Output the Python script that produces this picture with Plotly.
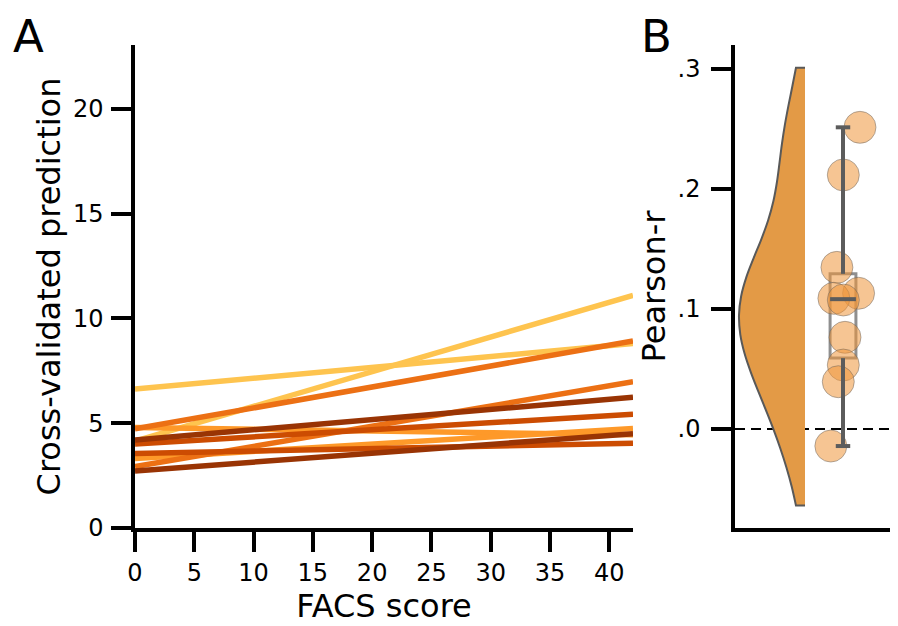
import numpy as np
import plotly.graph_objects as go

# page is rendered with an 8px body margin; figure sized to fit the window
OFF = 8
W, H = 898 - OFF, 626 - OFF


def fx(p):
    return (p - OFF) / W


def fy(p):
    return 1 - (p - OFF) / H


# ---------------- data ----------------
facs_span = [0, 42]
pred_at_start = [6.63, 4.15, 4.80, 3.32, 4.73, 2.93, 4.01, 3.56, 4.20, 2.72]
pred_at_end = [8.80, 11.10, 4.45, 4.75, 8.93, 6.98, 5.43, 4.04, 6.24, 4.50]
line_colors = ["#fec44f", "#fec44f", "#fe9929", "#fe9929", "#ec7014",
               "#ec7014", "#cc4c02", "#cc4c02", "#993404", "#993404"]

pearson_r = [0.2514, 0.2117, 0.1347, 0.1131, 0.1089, 0.1075, 0.0764, 0.0533, 0.0394, -0.0142]
rain_jitter = [0.447, 0.008, -0.16, 0.41, -0.24, 0.008, 0.053, 0.008, -0.124, -0.32]

x_ticks_a = [0, 5, 10, 15, 20, 25, 30, 35, 40]
y_ticks_a = [0, 5, 10, 15, 20]
y_ticks_b = [0.0, 0.1, 0.2, 0.3]
y_ticktext_b = [".0", ".1", ".2", ".3"]

# ---------------- stats ----------------
r = np.array(pearson_r)
q1, med, q3 = np.percentile(r, [25, 50, 75])
rmin, rmax = r.min(), r.max()
bw = r.std(ddof=1) * len(r) ** (-1 / 5)

FONT = "DejaVu Sans"
VIOLIN_X, BOX_X = 0.0, 1.0
BOX_W = 0.68
CAP = 0.19

fig = go.Figure()

# Panel A lines
for s, e, c in zip(pred_at_start, pred_at_end, line_colors):
    fig.add_trace(go.Scatter(x=facs_span, y=[s, e], mode="lines",
                             line=dict(color=c, width=5.5), xaxis="x", yaxis="y",
                             showlegend=False, hoverinfo="skip"))

# Panel B violin (half)
fig.add_trace(go.Violin(x=[VIOLIN_X] * len(r), y=r, side="negative",
                        width=2 * 1.737, bandwidth=bw, spanmode="manual",
                        span=[rmin - bw, rmax + bw], points=False,
                        box_visible=False, meanline_visible=False,
                        fillcolor="#e39a46", line=dict(color="#595959", width=2),
                        opacity=1, scalemode="width",
                        xaxis="x2", yaxis="y2", showlegend=False, hoverinfo="skip"))

# rain points
fig.add_trace(go.Scatter(x=[BOX_X + j for j in rain_jitter], y=r, mode="markers",
                         marker=dict(size=32, color="rgba(238,150,58,0.55)",
                                     line=dict(color="rgba(90,90,90,0.45)", width=1)),
                         xaxis="x2", yaxis="y2", showlegend=False, hoverinfo="skip"))

# box
fig.add_trace(go.Box(x=[BOX_X], q1=[q1], median=[med], q3=[q3],
                     lowerfence=[q1], upperfence=[q3], width=BOX_W, whiskerwidth=0,
                     fillcolor="rgba(255,255,255,0.4)",
                     line=dict(color="rgba(115,115,115,0.8)", width=3),
                     boxpoints=False, xaxis="x2", yaxis="y2",
                     showlegend=False, hoverinfo="skip"))

# whiskers with caps
fig.add_trace(go.Scatter(
    x=[BOX_X, BOX_X, None, BOX_X, BOX_X, None,
       BOX_X - CAP, BOX_X + CAP, None, BOX_X - CAP, BOX_X + CAP],
    y=[q3, rmax, None, q1, rmin, None, rmax, rmax, None, rmin, rmin],
    mode="lines", line=dict(color="#5c5c5c", width=4),
    xaxis="x2", yaxis="y2", showlegend=False, hoverinfo="skip"))
# median
fig.add_trace(go.Scatter(x=[BOX_X - BOX_W / 2, BOX_X + BOX_W / 2], y=[med, med],
                         mode="lines", line=dict(color="#5c5c5c", width=4),
                         xaxis="x2", yaxis="y2", showlegend=False, hoverinfo="skip"))

# zero reference line
fig.add_shape(type="line", xref="x2 domain", x0=0, x1=1, yref="y2", y0=0, y1=0,
              line=dict(color="black", width=2, dash="10px,6px"), layer="below")

ydom = [fy(528), fy(45)]
axis_common = dict(showline=True, linecolor="black", linewidth=3.5, showgrid=False,
                   zeroline=False, ticks="outside", tickwidth=3.5, ticklen=20,
                   tickcolor="black", tickfont=dict(family=FONT, size=24, color="black"))

fig.update_layout(
    width=W, height=H, margin=dict(l=0, r=0, t=0, b=0),
    paper_bgcolor="white", plot_bgcolor="white",
    font=dict(family=FONT, color="black"),
    xaxis=dict(domain=[fx(135), fx(633)], range=[0, 42], tickvals=x_ticks_a,
               title=dict(text="FACS score", font=dict(size=32), standoff=9),
               anchor="y", automargin=False, ticklabelstandoff=0, **axis_common),
    yaxis=dict(domain=ydom, range=[0, 23.05], tickvals=y_ticks_a,
               title=dict(text="Cross-validated prediction", font=dict(size=32), standoff=4),
               anchor="x", automargin=False, ticklabelstandoff=3, **axis_common),
    xaxis2=dict(domain=[fx(735), 1], range=[-70 / 38, 93 / 38], showline=True,
                linecolor="black", linewidth=3.5, showgrid=False, zeroline=False,
                showticklabels=False, ticks="", anchor="y2", automargin=False),
    yaxis2=dict(domain=ydom, range=[-0.0825, 0.32], tickvals=y_ticks_b,
                ticktext=y_ticktext_b,
                title=dict(text="Pearson-r", font=dict(size=32), standoff=3),
                anchor="x2", automargin=False, ticklabelstandoff=6, **axis_common),
    annotations=[
        dict(text="A", x=fx(11), y=1, xref="paper", yref="paper",
             xanchor="left", yanchor="top", showarrow=False,
             font=dict(family=FONT, size=45, color="black")),
        dict(text="B", x=fx(639), y=1, xref="paper", yref="paper",
             xanchor="left", yanchor="top", showarrow=False,
             font=dict(family=FONT, size=45, color="black")),
    ],
)

fig.write_html("out.html")
